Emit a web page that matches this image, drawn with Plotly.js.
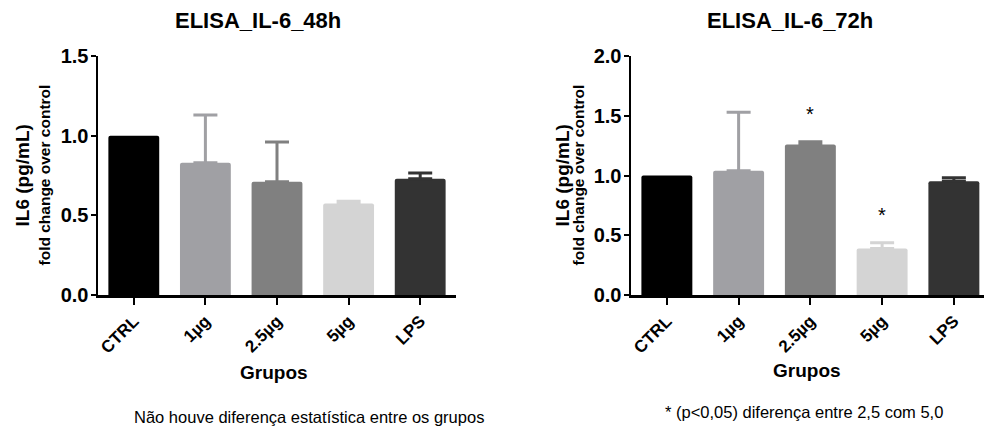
<!DOCTYPE html>
<html>
<head>
<meta charset="utf-8">
<script src="https://cdn.plot.ly/plotly-3.0.1.min.js"></script>
<style>html,body{margin:0;padding:0;background:#fff}#chart{width:984px;height:428px}</style>
</head>
<body>
<div id="chart"></div>
<script>
// ---- data ----
const categories = ["CTRL", "1\u00b5g", "2.5\u00b5g", "5\u00b5g", "LPS"];
const barColors = ["#000000", "#a0a0a4", "#808080", "#d4d4d4", "#333333"];
const values48 = [1.0, 0.83, 0.71, 0.575, 0.73];
const errors48 = [0.0, 0.30, 0.25, 0.013, 0.035];
const values72 = [1.0, 1.04, 1.26, 0.39, 0.952];
const errors72 = [0.0, 0.49, 0.022, 0.047, 0.03];
const stars72 = ["2.5\u00b5g", "5\u00b5g"];
const yTicks48 = [0, 0.5, 1.0, 1.5];
const yTicks72 = [0, 0.5, 1.0, 1.5, 2.0];
const title48 = "ELISA_IL-6_48h";
const title72 = "ELISA_IL-6_72h";
const yTitleMain = "IL6 (pg/mL)";
const yTitleSub = "fold change over control";
const xTitle = "Grupos";
const note48 = "N\u00e3o houve diferen\u00e7a estat\u00edstica entre os grupos";
const note72 = "* (p<0,05) diferen\u00e7a entre 2,5 com 5,0";

const FONT = "Arial, 'Liberation Sans', sans-serif";
const W = 984, H = 428;
const px = v => v / W;
const py = v => 1 - v / H;

const traces = [];
function addBars(vals, errs, xa, ya) {
  categories.forEach((c, i) => {
    traces.push({
      type: "bar", x: [c], y: [vals[i]], xaxis: xa, yaxis: ya,
      marker: {color: barColors[i], line: {width: 0}, cornerradius: 2},
      error_y: {type: "data", array: [errs[i]], arrayminus: [0], symmetric: false,
                visible: errs[i] > 0, color: barColors[i], thickness: 3, width: 12},
      hoverinfo: "skip", showlegend: false
    });
  });
}
addBars(values48, errors48, "x", "y");
addBars(values72, errors72, "x2", "y2");

const yDom = [py(295), py(56)];
const axisCommon = {
  showline: true, linecolor: "#000", linewidth: 2.5, showgrid: false, zeroline: false,
  ticks: "outside", tickcolor: "#000", tickwidth: 2
};
const xCommon = Object.assign({}, axisCommon, {
  type: "category", categoryorder: "array", categoryarray: categories,
  ticklen: 7, tickangle: -45,
  tickfont: {family: FONT, size: 17, color: "#000", weight: "bold"}
});
const yCommon = Object.assign({}, axisCommon, {
  domain: yDom, ticklen: 5, tickformat: ".1f", tickmode: "array",
  ticklabelstandoff: -2,
  tickfont: {family: FONT, size: 20, color: "#000", weight: "bold"}
});

const annotations = [];
function txt(x, y, text, size, bold, angle) {
  annotations.push({
    xref: "paper", yref: "paper", x: px(x), y: py(y), text: text, showarrow: false,
    xanchor: "center", yanchor: "middle", textangle: angle || 0,
    font: {family: FONT, size: size, color: "#000", weight: bold ? "bold" : "normal"}
  });
}
txt(258, 20, title48, 22, true);
txt(790, 20, title72, 22, true);
txt(22, 175.5, yTitleMain, 19, true, -90);
txt(44, 175.5, yTitleSub, 15.5, true, -90);
txt(562, 175.5, yTitleMain, 19, true, -90);
txt(578, 175.5, yTitleSub, 15.5, true, -90);
txt(274, 372, xTitle, 19, true);
txt(807, 370, xTitle, 19, true);
txt(309, 417, note48, 16.5, false);
txt(804, 412, note72, 16.5, false);

stars72.forEach(c => {
  const i = categories.indexOf(c);
  annotations.push({
    xref: "x2", yref: "y2", x: c, y: values72[i] + errors72[i], text: "*",
    showarrow: false, yanchor: "middle", yshift: 28,
    font: {family: FONT, size: 20, color: "#000"}
  });
});

const layout = {
  width: W, height: H, margin: {l: 0, r: 0, t: 0, b: 0},
  paper_bgcolor: "#fff", plot_bgcolor: "#fff",
  barmode: "overlay", bargap: 0.29, showlegend: false,
  xaxis: Object.assign({}, xCommon, {domain: [px(98), px(456)], range: [-0.5, 4.5], anchor: "y"}),
  yaxis: Object.assign({}, yCommon, {range: [0, 1.5], tickvals: yTicks48, anchor: "x"}),
  xaxis2: Object.assign({}, xCommon, {domain: [px(631), 1], range: [-0.5, 4.42], anchor: "y2"}),
  yaxis2: Object.assign({}, yCommon, {range: [0, 2.0], tickvals: yTicks72, anchor: "x2"}),
  annotations: annotations
};

Plotly.newPlot("chart", traces, layout, {displayModeBar: false, staticPlot: true});
</script>
</body>
</html>
